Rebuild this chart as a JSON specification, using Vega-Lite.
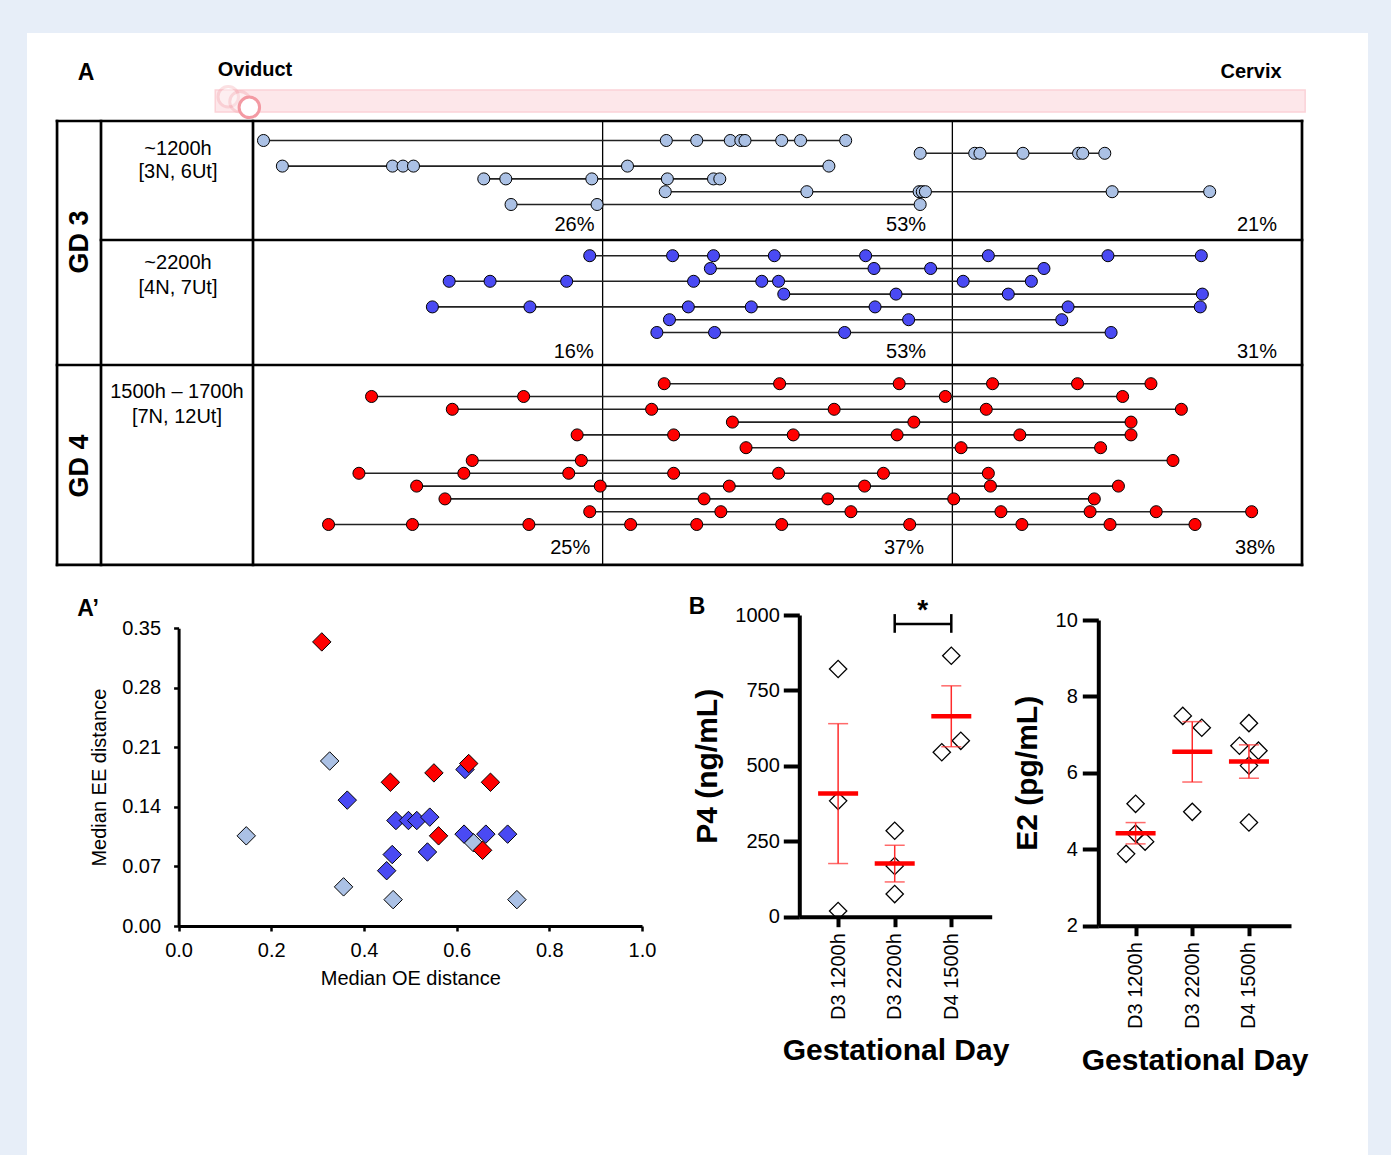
{
  "$schema": "https://vega.github.io/schema/vega-lite/v6.json",
  "width": 1341,
  "height": 1122,
  "autosize": {"type": "none"},
  "padding": {"left": 27, "top": 33, "right": 23, "bottom": 0},
  "datasets": {
    "dots": [
      {"g":"GD3 1200h","row":0,"pos":0.010},{"g":"GD3 1200h","row":0,"pos":0.394},{"g":"GD3 1200h","row":0,"pos":0.423},{"g":"GD3 1200h","row":0,"pos":0.455},{"g":"GD3 1200h","row":0,"pos":0.465},{"g":"GD3 1200h","row":0,"pos":0.469},{"g":"GD3 1200h","row":0,"pos":0.504},{"g":"GD3 1200h","row":0,"pos":0.522},{"g":"GD3 1200h","row":0,"pos":0.565},
      {"g":"GD3 1200h","row":1,"pos":0.636},{"g":"GD3 1200h","row":1,"pos":0.688},{"g":"GD3 1200h","row":1,"pos":0.693},{"g":"GD3 1200h","row":1,"pos":0.734},{"g":"GD3 1200h","row":1,"pos":0.787},{"g":"GD3 1200h","row":1,"pos":0.791},{"g":"GD3 1200h","row":1,"pos":0.812},
      {"g":"GD3 1200h","row":2,"pos":0.028},{"g":"GD3 1200h","row":2,"pos":0.133},{"g":"GD3 1200h","row":2,"pos":0.143},{"g":"GD3 1200h","row":2,"pos":0.153},{"g":"GD3 1200h","row":2,"pos":0.357},{"g":"GD3 1200h","row":2,"pos":0.549},
      {"g":"GD3 1200h","row":3,"pos":0.220},{"g":"GD3 1200h","row":3,"pos":0.241},{"g":"GD3 1200h","row":3,"pos":0.323},{"g":"GD3 1200h","row":3,"pos":0.395},{"g":"GD3 1200h","row":3,"pos":0.439},{"g":"GD3 1200h","row":3,"pos":0.445},
      {"g":"GD3 1200h","row":4,"pos":0.393},{"g":"GD3 1200h","row":4,"pos":0.528},{"g":"GD3 1200h","row":4,"pos":0.635},{"g":"GD3 1200h","row":4,"pos":0.638},{"g":"GD3 1200h","row":4,"pos":0.641},{"g":"GD3 1200h","row":4,"pos":0.819},{"g":"GD3 1200h","row":4,"pos":0.912},
      {"g":"GD3 1200h","row":5,"pos":0.246},{"g":"GD3 1200h","row":5,"pos":0.328},{"g":"GD3 1200h","row":5,"pos":0.636},
      {"g":"GD3 2200h","row":9,"pos":0.321},{"g":"GD3 2200h","row":9,"pos":0.400},{"g":"GD3 2200h","row":9,"pos":0.439},{"g":"GD3 2200h","row":9,"pos":0.497},{"g":"GD3 2200h","row":9,"pos":0.584},{"g":"GD3 2200h","row":9,"pos":0.701},{"g":"GD3 2200h","row":9,"pos":0.815},{"g":"GD3 2200h","row":9,"pos":0.904},
      {"g":"GD3 2200h","row":10,"pos":0.436},{"g":"GD3 2200h","row":10,"pos":0.592},{"g":"GD3 2200h","row":10,"pos":0.646},{"g":"GD3 2200h","row":10,"pos":0.754},
      {"g":"GD3 2200h","row":11,"pos":0.187},{"g":"GD3 2200h","row":11,"pos":0.226},{"g":"GD3 2200h","row":11,"pos":0.299},{"g":"GD3 2200h","row":11,"pos":0.420},{"g":"GD3 2200h","row":11,"pos":0.485},{"g":"GD3 2200h","row":11,"pos":0.501},{"g":"GD3 2200h","row":11,"pos":0.677},{"g":"GD3 2200h","row":11,"pos":0.742},
      {"g":"GD3 2200h","row":12,"pos":0.506},{"g":"GD3 2200h","row":12,"pos":0.613},{"g":"GD3 2200h","row":12,"pos":0.720},{"g":"GD3 2200h","row":12,"pos":0.905},
      {"g":"GD3 2200h","row":13,"pos":0.171},{"g":"GD3 2200h","row":13,"pos":0.264},{"g":"GD3 2200h","row":13,"pos":0.415},{"g":"GD3 2200h","row":13,"pos":0.475},{"g":"GD3 2200h","row":13,"pos":0.593},{"g":"GD3 2200h","row":13,"pos":0.777},{"g":"GD3 2200h","row":13,"pos":0.903},
      {"g":"GD3 2200h","row":14,"pos":0.397},{"g":"GD3 2200h","row":14,"pos":0.625},{"g":"GD3 2200h","row":14,"pos":0.771},
      {"g":"GD3 2200h","row":15,"pos":0.385},{"g":"GD3 2200h","row":15,"pos":0.440},{"g":"GD3 2200h","row":15,"pos":0.564},{"g":"GD3 2200h","row":15,"pos":0.818},
      {"g":"GD4","row":19,"pos":0.392},{"g":"GD4","row":19,"pos":0.502},{"g":"GD4","row":19,"pos":0.616},{"g":"GD4","row":19,"pos":0.705},{"g":"GD4","row":19,"pos":0.786},{"g":"GD4","row":19,"pos":0.856},
      {"g":"GD4","row":20,"pos":0.113},{"g":"GD4","row":20,"pos":0.258},{"g":"GD4","row":20,"pos":0.660},{"g":"GD4","row":20,"pos":0.829},
      {"g":"GD4","row":21,"pos":0.190},{"g":"GD4","row":21,"pos":0.380},{"g":"GD4","row":21,"pos":0.554},{"g":"GD4","row":21,"pos":0.699},{"g":"GD4","row":21,"pos":0.885},
      {"g":"GD4","row":22,"pos":0.457},{"g":"GD4","row":22,"pos":0.630},{"g":"GD4","row":22,"pos":0.837},
      {"g":"GD4","row":23,"pos":0.309},{"g":"GD4","row":23,"pos":0.401},{"g":"GD4","row":23,"pos":0.515},{"g":"GD4","row":23,"pos":0.614},{"g":"GD4","row":23,"pos":0.731},{"g":"GD4","row":23,"pos":0.837},
      {"g":"GD4","row":24,"pos":0.470},{"g":"GD4","row":24,"pos":0.675},{"g":"GD4","row":24,"pos":0.808},
      {"g":"GD4","row":25,"pos":0.209},{"g":"GD4","row":25,"pos":0.313},{"g":"GD4","row":25,"pos":0.877},
      {"g":"GD4","row":26,"pos":0.101},{"g":"GD4","row":26,"pos":0.201},{"g":"GD4","row":26,"pos":0.301},{"g":"GD4","row":26,"pos":0.401},{"g":"GD4","row":26,"pos":0.501},{"g":"GD4","row":26,"pos":0.601},{"g":"GD4","row":26,"pos":0.701},
      {"g":"GD4","row":27,"pos":0.156},{"g":"GD4","row":27,"pos":0.331},{"g":"GD4","row":27,"pos":0.454},{"g":"GD4","row":27,"pos":0.583},{"g":"GD4","row":27,"pos":0.703},{"g":"GD4","row":27,"pos":0.825},
      {"g":"GD4","row":28,"pos":0.183},{"g":"GD4","row":28,"pos":0.430},{"g":"GD4","row":28,"pos":0.548},{"g":"GD4","row":28,"pos":0.668},{"g":"GD4","row":28,"pos":0.802},
      {"g":"GD4","row":29,"pos":0.321},{"g":"GD4","row":29,"pos":0.446},{"g":"GD4","row":29,"pos":0.570},{"g":"GD4","row":29,"pos":0.713},{"g":"GD4","row":29,"pos":0.798},{"g":"GD4","row":29,"pos":0.861},{"g":"GD4","row":29,"pos":0.952},
      {"g":"GD4","row":30,"pos":0.072},{"g":"GD4","row":30,"pos":0.152},{"g":"GD4","row":30,"pos":0.263},{"g":"GD4","row":30,"pos":0.360},{"g":"GD4","row":30,"pos":0.423},{"g":"GD4","row":30,"pos":0.504},{"g":"GD4","row":30,"pos":0.626},{"g":"GD4","row":30,"pos":0.733},{"g":"GD4","row":30,"pos":0.817},{"g":"GD4","row":30,"pos":0.898}
    ],
    "frame": [
      {"x":-0.1868,"x2":1,"y":-1.523,"y2":-1.523,"kind":"thick"},
      {"x":-0.1868,"x2":1,"y":33.16,"y2":33.16,"kind":"thick"},
      {"x":-0.1868,"x2":-0.1868,"y":-1.523,"y2":33.16,"kind":"thick"},
      {"x":1,"x2":1,"y":-1.523,"y2":33.16,"kind":"thick"},
      {"x":-0.1449,"x2":-0.1449,"y":-1.523,"y2":33.16,"kind":"thick"},
      {"x":0,"x2":0,"y":-1.523,"y2":33.16,"kind":"thick"},
      {"x":-0.1449,"x2":1,"y":7.773,"y2":7.773,"kind":"thick"},
      {"x":-0.1868,"x2":1,"y":17.54,"y2":17.54,"kind":"thick"},
      {"x":0.3333,"x2":0.3333,"y":-1.523,"y2":33.16,"kind":"thin"},
      {"x":0.6667,"x2":0.6667,"y":-1.523,"y2":33.16,"kind":"thin"}
    ],
    "scatter": [
      {"g":"GD3 1200h","oe":0.146,"ee":0.106},{"g":"GD3 1200h","oe":0.326,"ee":0.194},{"g":"GD3 1200h","oe":0.356,"ee":0.046},{"g":"GD3 1200h","oe":0.463,"ee":0.031},{"g":"GD3 1200h","oe":0.730,"ee":0.031},{"g":"GD3 1200h","oe":0.636,"ee":0.098},
      {"g":"GD3 2200h","oe":0.364,"ee":0.148},{"g":"GD3 2200h","oe":0.469,"ee":0.124},{"g":"GD3 2200h","oe":0.496,"ee":0.124},{"g":"GD3 2200h","oe":0.514,"ee":0.124},{"g":"GD3 2200h","oe":0.542,"ee":0.128},{"g":"GD3 2200h","oe":0.616,"ee":0.108},{"g":"GD3 2200h","oe":0.663,"ee":0.108},{"g":"GD3 2200h","oe":0.710,"ee":0.108},{"g":"GD3 2200h","oe":0.461,"ee":0.084},{"g":"GD3 2200h","oe":0.449,"ee":0.065},{"g":"GD3 2200h","oe":0.537,"ee":0.087},{"g":"GD3 2200h","oe":0.618,"ee":0.184},
      {"g":"GD4","oe":0.309,"ee":0.334},{"g":"GD4","oe":0.457,"ee":0.169},{"g":"GD4","oe":0.551,"ee":0.180},{"g":"GD4","oe":0.626,"ee":0.191},{"g":"GD4","oe":0.673,"ee":0.169},{"g":"GD4","oe":0.561,"ee":0.106},{"g":"GD4","oe":0.656,"ee":0.089}
    ],
    "p4": [
      {"day":"D3 1200h","p4":821,"slot":0},{"day":"D3 1200h","p4":384,"slot":0},{"day":"D3 1200h","p4":19,"slot":0},
      {"day":"D3 2200h","p4":285,"slot":0},{"day":"D3 2200h","p4":168,"slot":0},{"day":"D3 2200h","p4":75,"slot":0},
      {"day":"D4 1500h","p4":865,"slot":0},{"day":"D4 1500h","p4":545,"slot":-1},{"day":"D4 1500h","p4":583,"slot":1}
    ],
    "e2": [
      {"day":"D3 1200h","e2":5.19,"slot":0},{"day":"D3 1200h","e2":4.41,"slot":0},{"day":"D3 1200h","e2":4.20,"slot":1},{"day":"D3 1200h","e2":3.88,"slot":-1},
      {"day":"D3 2200h","e2":7.49,"slot":-1},{"day":"D3 2200h","e2":7.18,"slot":1},{"day":"D3 2200h","e2":4.98,"slot":0},
      {"day":"D4 1500h","e2":7.30,"slot":0},{"day":"D4 1500h","e2":6.71,"slot":-1},{"day":"D4 1500h","e2":6.58,"slot":1},{"day":"D4 1500h","e2":6.19,"slot":0},{"day":"D4 1500h","e2":4.70,"slot":0}
    ]
  },
  "layer": [
    {
      "layer": [
        {
          "data": {"name": "frame"},
          "mark": {"type": "rule", "color": "black", "strokeCap": "square"},
          "encoding": {
            "x": {"field": "x", "type": "quantitative", "scale": {"domain": [0, 1], "range": [226, 1275], "nice": false, "zero": false}, "axis": null},
            "x2": {"field": "x2"},
            "y": {"field": "y", "type": "quantitative", "scale": {"domain": [0, 30], "range": [107.5, 491.5], "nice": false, "zero": false}, "axis": null},
            "y2": {"field": "y2"},
            "strokeWidth": {"field": "kind", "type": "nominal", "scale": {"domain": ["thick", "thin"], "range": [2.7, 1.3]}, "legend": null}
          }
        },
        {
          "data": {"values": [{"start": -0.036, "end": 1.003, "top": -3.95, "bottom": -2.23}]},
          "mark": {"type": "rect", "fill": "#fde7ea", "stroke": "#fbd2d7", "strokeWidth": 1.5},
          "encoding": {
            "x": {"field": "start", "type": "quantitative", "scale": {"domain": [0, 1], "range": [226, 1275], "nice": false, "zero": false}, "axis": null},
            "x2": {"field": "end"},
            "y": {"field": "top", "type": "quantitative", "scale": {"domain": [0, 30], "range": [107.5, 491.5], "nice": false, "zero": false}, "axis": null},
            "y2": {"field": "bottom"}
          }
        },
        {
          "data": {"values": [{"pos": -0.0236, "row": -3.42, "phase": "earlier"}, {"pos": -0.0124, "row": -3.03, "phase": "earlier"}, {"pos": -0.0035, "row": -2.59, "phase": "current"}]},
          "mark": {"type": "point", "shape": "circle", "size": 420, "filled": true, "fill": "white", "stroke": "#f39aa3", "strokeWidth": 3},
          "encoding": {
            "x": {"field": "pos", "type": "quantitative", "scale": {"domain": [0, 1], "range": [226, 1275], "nice": false, "zero": false}, "axis": null},
            "y": {"field": "row", "type": "quantitative", "scale": {"domain": [0, 30], "range": [107.5, 491.5], "nice": false, "zero": false}, "axis": null},
            "opacity": {"field": "phase", "type": "nominal", "scale": {"domain": ["earlier", "current"], "range": [0.3, 1]}, "legend": null}
          }
        },
        {
          "data": {"name": "dots"},
          "mark": {"type": "rule", "color": "#222222", "strokeWidth": 1.6},
          "encoding": {
            "x": {"aggregate": "min", "field": "pos", "type": "quantitative", "scale": {"domain": [0, 1], "range": [226, 1275], "nice": false, "zero": false}, "axis": null},
            "x2": {"aggregate": "max", "field": "pos"},
            "y": {"field": "row", "type": "quantitative", "scale": {"domain": [0, 30], "range": [107.5, 491.5], "nice": false, "zero": false}, "axis": null}
          }
        },
        {
          "data": {"name": "dots"},
          "mark": {"type": "point", "shape": "circle", "filled": true, "size": 145, "stroke": "black", "strokeWidth": 1, "opacity": 1},
          "encoding": {
            "x": {"field": "pos", "type": "quantitative", "scale": {"domain": [0, 1], "range": [226, 1275], "nice": false, "zero": false}, "axis": null},
            "y": {"field": "row", "type": "quantitative", "scale": {"domain": [0, 30], "range": [107.5, 491.5], "nice": false, "zero": false}, "axis": null},
            "fill": {"field": "g", "type": "nominal", "scale": {"domain": ["GD3 1200h", "GD3 2200h", "GD4"], "range": ["#abc1e5", "#4a4af3", "#ff0000"]}, "legend": null}
          }
        },
        {
          "data": {"values": [
            {"x": -0.0715, "row": 0.66, "label": "~1200h"}, {"x": -0.0715, "row": 2.46, "label": "[3N, 6Ut]"},
            {"x": -0.0715, "row": 9.57, "label": "~2200h"}, {"x": -0.0715, "row": 11.52, "label": "[4N, 7Ut]"},
            {"x": -0.0725, "row": 19.65, "label": "1500h – 1700h"}, {"x": -0.0725, "row": 21.6, "label": "[7N, 12Ut]"}
          ]},
          "mark": {"type": "text", "fontSize": 20, "align": "center", "baseline": "middle"},
          "encoding": {
            "x": {"field": "x", "type": "quantitative", "scale": {"domain": [0, 1], "range": [226, 1275], "nice": false, "zero": false}, "axis": null},
            "y": {"field": "row", "type": "quantitative", "scale": {"domain": [0, 30], "range": [107.5, 491.5], "nice": false, "zero": false}, "axis": null},
            "text": {"field": "label"}
          }
        },
        {
          "data": {"values": [{"x": -0.1649, "row": 7.93, "label": "GD 3"}, {"x": -0.1649, "row": 25.43, "label": "GD 4"}]},
          "mark": {"type": "text", "fontSize": 27, "fontWeight": "bold", "angle": 270, "align": "center", "baseline": "middle"},
          "encoding": {
            "x": {"field": "x", "type": "quantitative", "scale": {"domain": [0, 1], "range": [226, 1275], "nice": false, "zero": false}, "axis": null},
            "y": {"field": "row", "type": "quantitative", "scale": {"domain": [0, 30], "range": [107.5, 491.5], "nice": false, "zero": false}, "axis": null},
            "text": {"field": "label"}
          }
        },
        {
          "data": {"values": [
            {"x": 0.3255, "row": 6.6, "label": "26%"}, {"x": 0.6416, "row": 6.6, "label": "53%"}, {"x": 0.9761, "row": 6.6, "label": "21%"},
            {"x": 0.3248, "row": 16.5, "label": "16%"}, {"x": 0.6416, "row": 16.5, "label": "53%"}, {"x": 0.9761, "row": 16.5, "label": "31%"},
            {"x": 0.3215, "row": 31.86, "label": "25%"}, {"x": 0.6396, "row": 31.86, "label": "37%"}, {"x": 0.9743, "row": 31.86, "label": "38%"}
          ]},
          "mark": {"type": "text", "fontSize": 20, "align": "right", "baseline": "middle"},
          "encoding": {
            "x": {"field": "x", "type": "quantitative", "scale": {"domain": [0, 1], "range": [226, 1275], "nice": false, "zero": false}, "axis": null},
            "y": {"field": "row", "type": "quantitative", "scale": {"domain": [0, 30], "range": [107.5, 491.5], "nice": false, "zero": false}, "axis": null},
            "text": {"field": "label"}
          }
        },
        {
          "data": {"values": [{"x": 0.0019, "row": -5.51, "label": "Oviduct"}, {"x": 0.9514, "row": -5.35, "label": "Cervix"}]},
          "mark": {"type": "text", "fontSize": 20, "fontWeight": "bold", "align": "center", "baseline": "middle"},
          "encoding": {
            "x": {"field": "x", "type": "quantitative", "scale": {"domain": [0, 1], "range": [226, 1275], "nice": false, "zero": false}, "axis": null},
            "y": {"field": "row", "type": "quantitative", "scale": {"domain": [0, 30], "range": [107.5, 491.5], "nice": false, "zero": false}, "axis": null},
            "text": {"field": "label"}
          }
        },
        {
          "data": {"values": [{"x": -0.1592, "row": -5.27, "label": "A"}, {"x": -0.1573, "row": 36.6, "label": "A’"}, {"x": 0.4233, "row": 36.45, "label": "B"}]},
          "mark": {"type": "text", "fontSize": 23, "fontWeight": "bold", "align": "center", "baseline": "middle"},
          "encoding": {
            "x": {"field": "x", "type": "quantitative", "scale": {"domain": [0, 1], "range": [226, 1275], "nice": false, "zero": false}, "axis": null},
            "y": {"field": "row", "type": "quantitative", "scale": {"domain": [0, 30], "range": [107.5, 491.5], "nice": false, "zero": false}, "axis": null},
            "text": {"field": "label"}
          }
        }
      ]
    },
    {
      "data": {"name": "scatter"},
      "mark": {"type": "point", "shape": "diamond", "filled": true, "size": 340, "stroke": "black", "strokeWidth": 1, "opacity": 1},
      "encoding": {
        "x": {"field": "oe", "type": "quantitative", "title": "Median OE distance",
          "scale": {"domain": [0, 1], "range": [151.6, 615], "nice": false, "zero": false},
          "axis": {"orient": "bottom", "offset": -229, "values": [0, 0.2, 0.4, 0.6, 0.8, 1], "format": ".1f", "domainWidth": 3, "tickWidth": 2.5, "tickSize": 5, "labelFontSize": 20, "labelPadding": 9, "labelFlush": false, "labelOverlap": false, "titleFontSize": 20, "titleFontWeight": "normal", "titlePadding": 8}},
        "y": {"field": "ee", "type": "quantitative", "title": "Median EE distance",
          "scale": {"domain": [0, 0.35], "range": [893, 595.3], "nice": false, "zero": false},
          "axis": {"orient": "left", "offset": -151.6, "values": [0, 0.07, 0.14, 0.21, 0.28, 0.35], "format": ".2f", "domainWidth": 3, "tickWidth": 2.5, "tickSize": 5, "labelFontSize": 20, "labelPadding": 13, "labelOverlap": false, "titleFontSize": 20, "titleFontWeight": "normal", "titlePadding": 12}},
        "fill": {"field": "g", "type": "nominal", "scale": {"domain": ["GD3 1200h", "GD3 2200h", "GD4"], "range": ["#abc1e5", "#4a4af3", "#ff0000"]}, "legend": null}
      }
    },
    {
      "layer": [
        {
          "data": {"name": "p4"},
          "mark": {"type": "point", "shape": "diamond", "filled": false, "size": 300, "stroke": "black", "strokeWidth": 1.3, "opacity": 1},
          "encoding": {
            "x": {"field": "day", "type": "nominal", "title": "Gestational Day",
              "scale": {"type": "point", "domain": ["D3 1200h", "D3 2200h", "D4 1500h"], "range": [772.3, 964.7], "padding": 0.7, "align": 0.49},
              "axis": {"orient": "bottom", "offset": -238.3, "labelAngle": -90, "domainWidth": 4, "tickWidth": 4, "tickSize": 10, "labelFontSize": 20, "labelPadding": 6, "titleFontSize": 30, "titleFontWeight": "bold", "titlePadding": 16}},
            "xOffset": {"field": "slot", "type": "quantitative", "scale": {"domain": [-1, 1], "range": [-9.5, 9.5]}},
            "y": {"field": "p4", "type": "quantitative", "title": "P4 (ng/mL)",
              "scale": {"domain": [0, 1000], "range": [883.7, 582], "nice": false, "zero": false},
              "axis": {"orient": "left", "offset": -772.3, "values": [0, 250, 500, 750, 1000], "format": "d", "domainWidth": 4, "tickWidth": 4, "tickSize": 16, "labelFontSize": 20, "labelPadding": 4, "labelOverlap": false, "titleFontSize": 30, "titleFontWeight": "bold", "titlePadding": 12}}
          }
        },
        {
          "data": {"name": "p4"},
          "mark": {"type": "errorbar", "extent": "stderr", "ticks": true, "size": 20, "thickness": 1.5, "color": "#ff2b2b"},
          "encoding": {
            "x": {"field": "day", "type": "nominal", "title": "Gestational Day", "scale": {"type": "point", "domain": ["D3 1200h", "D3 2200h", "D4 1500h"], "range": [772.3, 964.7], "padding": 0.7, "align": 0.49}},
            "y": {"field": "p4", "type": "quantitative", "title": "P4 (ng/mL)", "scale": {"domain": [0, 1000], "range": [883.7, 582], "nice": false, "zero": false}}
          }
        },
        {
          "data": {"name": "p4"},
          "mark": {"type": "tick", "size": 40, "thickness": 4.5, "color": "#ff0000", "opacity": 1},
          "encoding": {
            "x": {"field": "day", "type": "nominal", "title": "Gestational Day", "scale": {"type": "point", "domain": ["D3 1200h", "D3 2200h", "D4 1500h"], "range": [772.3, 964.7], "padding": 0.7, "align": 0.49}},
            "y": {"aggregate": "mean", "field": "p4", "type": "quantitative", "title": "P4 (ng/mL)", "scale": {"domain": [0, 1000], "range": [883.7, 582], "nice": false, "zero": false}}
          }
        },
        {
          "data": {"values": [{"day": "D3 2200h", "yb": 970}, {"day": "D4 1500h", "yb": 970}]},
          "mark": {"type": "line", "color": "black", "strokeWidth": 2.5},
          "encoding": {
            "x": {"field": "day", "type": "nominal", "title": "Gestational Day", "scale": {"type": "point", "domain": ["D3 1200h", "D3 2200h", "D4 1500h"], "range": [772.3, 964.7], "padding": 0.7, "align": 0.49}},
            "y": {"field": "yb", "type": "quantitative", "title": "P4 (ng/mL)", "scale": {"domain": [0, 1000], "range": [883.7, 582], "nice": false, "zero": false}}
          }
        },
        {
          "data": {"values": [{"day": "D3 2200h", "lo": 941, "hi": 1003}, {"day": "D4 1500h", "lo": 941, "hi": 1003}]},
          "mark": {"type": "rule", "color": "black", "strokeWidth": 2.5},
          "encoding": {
            "x": {"field": "day", "type": "nominal", "title": "Gestational Day", "scale": {"type": "point", "domain": ["D3 1200h", "D3 2200h", "D4 1500h"], "range": [772.3, 964.7], "padding": 0.7, "align": 0.49}},
            "y": {"field": "lo", "type": "quantitative", "title": "P4 (ng/mL)", "scale": {"domain": [0, 1000], "range": [883.7, 582], "nice": false, "zero": false}},
            "y2": {"field": "hi"}
          }
        },
        {
          "data": {"values": [{"day": "D3 2200h", "yb": 988, "label": "*"}]},
          "mark": {"type": "text", "fontSize": 28, "fontWeight": "bold", "align": "center", "baseline": "alphabetic", "dx": 28},
          "encoding": {
            "x": {"field": "day", "type": "nominal", "title": "Gestational Day", "scale": {"type": "point", "domain": ["D3 1200h", "D3 2200h", "D4 1500h"], "range": [772.3, 964.7], "padding": 0.7, "align": 0.49}},
            "y": {"field": "yb", "type": "quantitative", "title": "P4 (ng/mL)", "scale": {"domain": [0, 1000], "range": [883.7, 582], "nice": false, "zero": false}},
            "text": {"field": "label"}
          }
        }
      ]
    },
    {
      "layer": [
        {
          "data": {"name": "e2"},
          "mark": {"type": "point", "shape": "diamond", "filled": false, "size": 300, "stroke": "black", "strokeWidth": 1.3, "opacity": 1},
          "encoding": {
            "x": {"field": "day", "type": "nominal", "title": "Gestational Day",
              "scale": {"type": "point", "domain": ["D3 1200h", "D3 2200h", "D4 1500h"], "range": [1071.3, 1264], "padding": 0.7, "align": 0.47},
              "axis": {"orient": "bottom", "offset": -229.3, "labelAngle": -90, "domainWidth": 4, "tickWidth": 4, "tickSize": 10, "labelFontSize": 20, "labelPadding": 6, "titleFontSize": 30, "titleFontWeight": "bold", "titlePadding": 17}},
            "xOffset": {"field": "slot", "type": "quantitative", "scale": {"domain": [-1, 1], "range": [-9.5, 9.5]}},
            "y": {"field": "e2", "type": "quantitative", "title": "E2 (pg/mL)",
              "scale": {"domain": [2, 10], "range": [892.7, 587], "nice": false, "zero": false},
              "axis": {"orient": "left", "offset": -1071.3, "values": [2, 4, 6, 8, 10], "format": "d", "domainWidth": 4, "tickWidth": 4, "tickSize": 16, "labelFontSize": 20, "labelPadding": 5, "labelOverlap": false, "titleFontSize": 30, "titleFontWeight": "bold", "titlePadding": 13}}
          }
        },
        {
          "data": {"name": "e2"},
          "mark": {"type": "errorbar", "extent": "stderr", "ticks": true, "size": 20, "thickness": 1.5, "color": "#ff2b2b"},
          "encoding": {
            "x": {"field": "day", "type": "nominal", "title": "Gestational Day", "scale": {"type": "point", "domain": ["D3 1200h", "D3 2200h", "D4 1500h"], "range": [1071.3, 1264], "padding": 0.7, "align": 0.47}},
            "y": {"field": "e2", "type": "quantitative", "title": "E2 (pg/mL)", "scale": {"domain": [2, 10], "range": [892.7, 587], "nice": false, "zero": false}}
          }
        },
        {
          "data": {"name": "e2"},
          "mark": {"type": "tick", "size": 40, "thickness": 4.5, "color": "#ff0000", "opacity": 1},
          "encoding": {
            "x": {"field": "day", "type": "nominal", "title": "Gestational Day", "scale": {"type": "point", "domain": ["D3 1200h", "D3 2200h", "D4 1500h"], "range": [1071.3, 1264], "padding": 0.7, "align": 0.47}},
            "y": {"aggregate": "mean", "field": "e2", "type": "quantitative", "title": "E2 (pg/mL)", "scale": {"domain": [2, 10], "range": [892.7, 587], "nice": false, "zero": false}}
          }
        }
      ]
    }
  ],
  "resolve": {"scale": {"x": "independent", "y": "independent", "xOffset": "independent"}},
  "config": {
    "background": "#e7eef8",
    "view": {"fill": "white", "stroke": null},
    "font": "Liberation Sans",
    "text": {"font": "Liberation Sans", "color": "black"},
    "axis": {"labelFont": "Liberation Sans", "titleFont": "Liberation Sans", "labelColor": "black", "titleColor": "black", "domainColor": "black", "tickColor": "black", "grid": false}
  }
}
